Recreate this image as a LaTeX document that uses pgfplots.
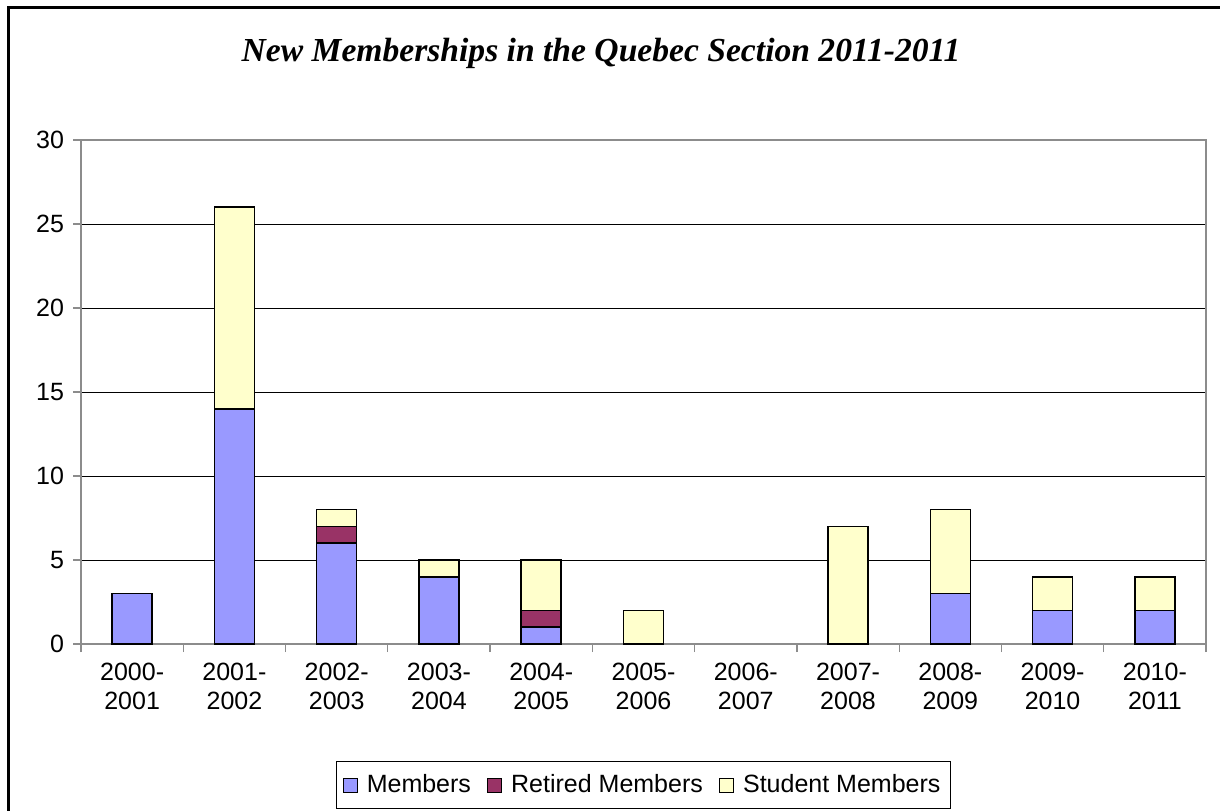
\documentclass[border=0pt]{standalone}
\usepackage{fontspec}
\setmainfont{Liberation Sans}
\newfontfamily\titlefont{Liberation Serif}
\usepackage{pgfplots}
\pgfplotsset{compat=1.18}
\definecolor{mem}{HTML}{9999FF}
\definecolor{ret}{HTML}{993366}
\definecolor{stu}{HTML}{FFFFCC}
\begin{document}
\begin{tikzpicture}
\path[use as bounding box] (0pt,0pt) rectangle (610pt,405pt);
\draw[line width=1.5pt] (4pt,-2pt) -- (4pt,401pt) -- (612pt,401pt);
\node[font=\titlefont\bfseries\itshape\fontsize{16.8}{20}\selectfont] at (300.5pt,378.5pt) {New Memberships in the Quebec Section 2011-2011};
\begin{axis}[
  at={(40.5pt,83pt)}, anchor=south west,
  scale only axis, width=562.5pt, height=252pt,
  ymin=0, ymax=30, ytick={0,5,...,30},
  xmin=-0.5, xmax=10.5,
  xtick={-0.5,0.5,...,10.5}, xticklabels={},
  extra x ticks={0,...,10}, extra x tick style={major tick length=0pt, tick style={draw=none}},
  extra x tick labels={{2000-\\2001},{2001-\\2002},{2002-\\2003},{2003-\\2004},{2004-\\2005},{2005-\\2006},{2006-\\2007},{2007-\\2008},{2008-\\2009},{2009-\\2010},{2010-\\2011}},
  xticklabel style={align=center, font=\fontsize{12.5}{14.5}\selectfont, yshift=-6pt},
  yticklabel style={font=\fontsize{12.5}{14}\selectfont, xshift=-1pt},
  /pgf/number format/assume math mode=true,
  ybar stacked, bar width=20pt,
  ymajorgrids, grid style={black, line width=0.5pt},
  axis line style={gray!90, line width=0.8pt},
  tick style={gray!90, line width=0.6pt},
  major tick length=4pt,
  xtick pos=bottom, ytick pos=left,
  tick align=outside,
  legend style={at={(0.5,-0.28)}, anchor=center, legend columns=-1, draw=black, line width=0.6pt,
    font=\fontsize{12.5}{14}\selectfont, inner xsep=3pt, inner ysep=4.5pt,
    /tikz/every odd column/.append style={column sep=2.5pt},
    /tikz/every even column/.append style={column sep=6pt}},
  legend image code/.code={\draw[#1, line width=0.6pt] (0pt,-3.5pt) rectangle (7pt,3.5pt);},
]
\addplot[fill=mem, draw=black, line width=0.8pt] coordinates {(0,3) (1,14) (2,6) (3,4) (4,1) (5,0) (6,0) (7,0) (8,3) (9,2) (10,2)};
\addplot[fill=ret, draw=black, line width=0.8pt] coordinates {(0,0) (1,0) (2,1) (3,0) (4,1) (5,0) (6,0) (7,0) (8,0) (9,0) (10,0)};
\addplot[fill=stu, draw=black, line width=0.8pt] coordinates {(0,0) (1,12) (2,1) (3,1) (4,3) (5,2) (6,0) (7,7) (8,5) (9,2) (10,2)};
\legend{Members, Retired Members, Student Members}
\end{axis}
\end{tikzpicture}
\end{document}
